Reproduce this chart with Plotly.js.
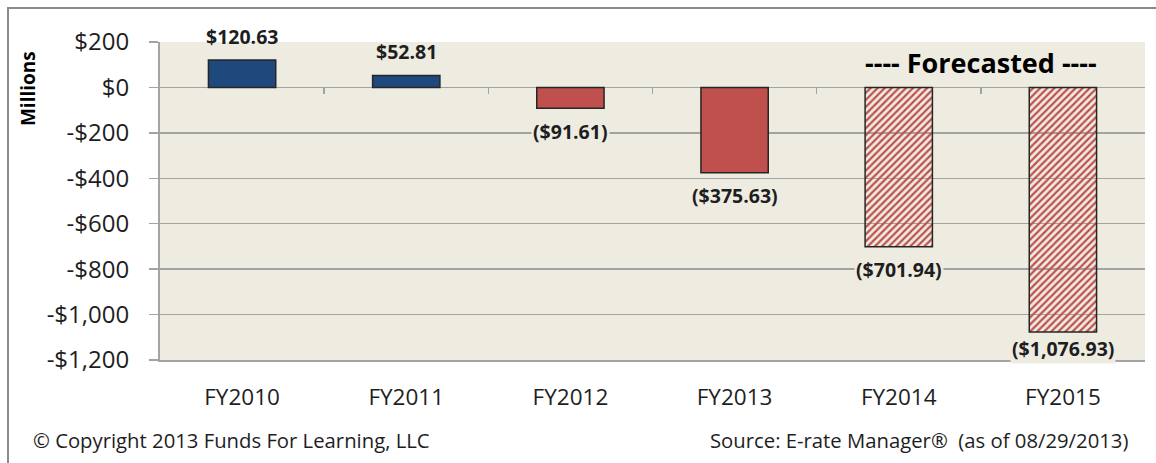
<!DOCTYPE html>
<html>
<head>
<meta charset="utf-8">
<script src="https://cdn.plot.ly/plotly-3.0.1.min.js"></script>
<style>
  html, body { margin: 0; padding: 0; background: #ffffff; }
  #wrap { position: relative; width: 1156px; height: 463px; overflow: hidden; }
  #chart { position: absolute; left: 0; top: 0; width: 1156px; height: 463px; }
  #frame { position: absolute; left: 7px; top: 7px; width: 1160px; height: 470px;
           border-top: 2px solid #8a8a8a; border-left: 2px solid #8a8a8a; pointer-events: none; }
</style>
</head>
<body>
<div id="wrap">
  <div id="chart"></div>
  <div id="frame"></div>
</div>
<script>
// ---- data ----
const categories = ["FY2010", "FY2011", "FY2012", "FY2013", "FY2014", "FY2015"];
const values = [120.63, 52.81, -91.61, -375.63, -701.94, -1076.93];
const forecast = [false, false, false, false, true, true];
const yTickVals = [200, 0, -200, -400, -600, -800, -1000, -1200];
const yTickText = ["$200", "$0", "-$200", "-$400", "-$600", "-$800", "-$1,000", "-$1,200"];
const yRange = [-1200, 200];

// ---- styling helpers ----
const NAVY = "#1F497D", RED = "#C0504D", BG = "#EEECE1", GRID = "#A3A3A3", TXT = "#1e1e1e";
const FONT = "Open Sans, Noto Sans, sans-serif";
const PLOT_H = 463 - 42 - 103;

function fmt(v) {
  const s = Math.abs(v).toLocaleString("en-US", {minimumFractionDigits: 2, maximumFractionDigits: 2});
  return v < 0 ? "($" + s + ")" : "$" + s;
}

const colors = values.map((v, i) => forecast[i] ? RED : (v >= 0 ? NAVY : RED));
const shapes = forecast.map(f => f ? "/" : "");

const bars = {
  type: "bar",
  x: categories,
  y: values,
  marker: {
    color: colors,
    line: {color: "#262626", width: 1.5},
    pattern: {shape: shapes, fgcolor: RED, bgcolor: "#ffffff", fillmode: "replace", size: 5, solidity: 0.45}
  },
  hoverinfo: "skip",
  showlegend: false
};

const dummy = {type: "scatter", x: [], y: [], xaxis: "x2", yaxis: "y", hoverinfo: "skip", showlegend: false};

// data labels: outside end, kept inside the plot area when near the bottom
const pxPerUnit = PLOT_H / (yRange[1] - yRange[0]);
const labelAnns = values.map((v, i) => {
  let shift;
  if (v >= 0) shift = 24;
  else {
    const room = (v - yRange[0]) * pxPerUnit;   // pixels between bar end and plot bottom
    shift = -Math.min(23, room - 12);
  }
  return {
    x: categories[i], y: v, xref: "x", yref: "y",
    text: "<b>" + fmt(v) + "</b>",
    showarrow: false,
    yanchor: "middle",
    yshift: shift,
    bgcolor: v < 0 ? BG : "rgba(0,0,0,0)",
    borderpad: 1,
    font: {family: FONT, size: 19.5, color: TXT}
  };
});

const zeroPos = (0 - yRange[0]) / (yRange[1] - yRange[0]);

const layout = {
  width: 1156, height: 463,
  margin: {l: 160, r: 11, t: 42, b: 103, pad: 0},
  paper_bgcolor: "rgba(0,0,0,0)",
  plot_bgcolor: BG,
  bargap: 0.59,
  font: {family: FONT, color: TXT},
  xaxis: {
    type: "category",
    range: [-0.5, categories.length - 0.5],
    showgrid: false, zeroline: false,
    showline: true, linecolor: GRID, linewidth: 2,
    ticks: "", ticklabelstandoff: 16,
    tickfont: {family: FONT, size: 22.5, color: TXT},
    fixedrange: true
  },
  xaxis2: {
    type: "linear", overlaying: "x", anchor: "free", position: zeroPos, side: "bottom",
    range: [-0.5, categories.length - 0.5],
    tickmode: "array",
    tickvals: categories.slice(1).map((c, i) => i + 0.5),
    ticks: "outside", ticklen: 6, tickwidth: 1.5, tickcolor: GRID,
    showticklabels: false, showgrid: false, zeroline: false, showline: false,
    fixedrange: true
  },
  yaxis: {
    range: yRange,
    tickmode: "array", tickvals: yTickVals, ticktext: yTickText,
    showgrid: true, gridcolor: GRID, gridwidth: 1.5,
    zeroline: false,
    showline: true, linecolor: GRID, linewidth: 2,
    ticks: "outside", ticklen: 9, tickwidth: 1.5, tickcolor: GRID,
    ticklabelstandoff: 15,
    tickfont: {family: FONT, size: 24, color: TXT},
    fixedrange: true
  },
  annotations: labelAnns.concat([
    {xref: "paper", yref: "paper", x: -0.134, y: 0.852, textangle: -90,
     text: "<b>Millions</b>", showarrow: false, xanchor: "center", yanchor: "middle",
     font: {family: FONT, size: 19, color: "#000"}},
    {xref: "paper", yref: "paper", x: 0.8335, y: 0.934,
     text: "<b>---- Forecasted ----</b>", showarrow: false, xanchor: "center", yanchor: "middle",
     font: {family: FONT, size: 27, color: "#000"}},
    {xref: "paper", yref: "paper", x: -0.131, y: -0.252,
     text: "© Copyright 2013 Funds For Learning, LLC", showarrow: false, xanchor: "left", yanchor: "middle",
     font: {family: FONT, size: 20.3, color: TXT}},
    {xref: "paper", yref: "paper", x: 0.9848, y: -0.252,
     text: "Source: E-rate Manager®&nbsp;&nbsp;(as of 08/29/2013)", showarrow: false, xanchor: "right", yanchor: "middle",
     font: {family: FONT, size: 20.3, color: TXT}}
  ])
};

Plotly.newPlot("chart", [bars, dummy], layout, {staticPlot: true, displayModeBar: false});
</script>
</body>
</html>
